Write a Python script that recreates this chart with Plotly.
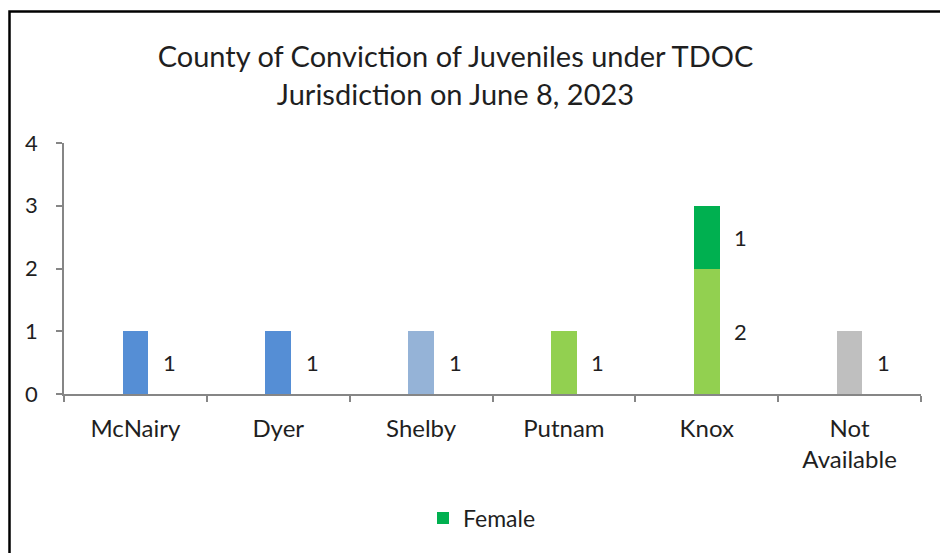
import plotly.graph_objects as go

categories = ["McNairy", "Dyer", "Shelby", "Putnam", "Knox", "Not<br>Available"]
male_values = [1, 1, 1, 1, 2, 1]
female_values = [0, 0, 0, 0, 1, 0]
male_colors = ["#558ED5", "#558ED5", "#95B3D7", "#92D050", "#92D050", "#BFBFBF"]
female_color = "#00B050"
y_ticks = [0, 1, 2, 3, 4]
title_text = "County of Conviction of Juveniles under TDOC<br>Jurisdiction on June 8, 2023"

FONT = "Lato, Calibri, Carlito, sans-serif"
TXT = "#1f1f1f"

fig = go.Figure()
fig.add_trace(go.Bar(
    x=categories, y=male_values, name="Male", width=0.18,
    marker=dict(color=male_colors, line=dict(width=0)), showlegend=False,
    hoverinfo="x+y",
))
fig.add_trace(go.Bar(
    x=categories, y=female_values, name="Female", width=0.18,
    marker=dict(color=female_color, line=dict(width=0)), showlegend=True,
))

annotations = []
for c, m, f in zip(categories, male_values, female_values):
    if m > 0:
        annotations.append(dict(x=c, y=m / 2, text=str(m), showarrow=False,
                                xshift=34, font=dict(size=22, color=TXT, family=FONT)))
    if f > 0:
        annotations.append(dict(x=c, y=m + f / 2, text=str(f), showarrow=False,
                                xshift=34, font=dict(size=22, color=TXT, family=FONT)))

l, r_px, t, b_px = 64, 921, 143, 394
pw, ph = r_px - l, b_px - t

def px_x(px):
    return (px - l) / pw

def px_y(py):
    return (b_px - py) / ph

fig.update_layout(
    barmode="stack",
    width=940, height=553,
    margin=dict(l=l, r=940 - r_px, t=t, b=553 - b_px, autoexpand=False),
    paper_bgcolor="white", plot_bgcolor="white",
    font=dict(family=FONT, color=TXT, size=22),
    title=dict(text=title_text, x=455.5 / 940, xref="container", xanchor="center",
               y=1 - 67 / 553, yref="container", yanchor="middle",
               font=dict(size=29, family=FONT, color=TXT)),
    xaxis=dict(showline=True, linecolor="#868686", linewidth=1.5,
               ticks="outside", ticklen=6, tickcolor="#868686", tickwidth=1.5,
               tickson="boundaries", showgrid=False, zeroline=False,
               tickfont=dict(size=24, family=FONT, color=TXT), ticklabelstandoff=12,
               fixedrange=True),
    yaxis=dict(range=[0, 4], tickvals=y_ticks, showline=True, linecolor="#868686", linewidth=1.5,
               ticks="outside", ticklen=6, tickcolor="#868686", tickwidth=1.5,
               showgrid=False, zeroline=False,
               tickfont=dict(size=22, family=FONT, color=TXT), ticklabelstandoff=14,
               fixedrange=True),
    legend=dict(orientation="h", x=px_x(482), xanchor="center", y=px_y(518), yanchor="middle",
                font=dict(size=23, family=FONT, color=TXT), bgcolor="rgba(0,0,0,0)"),
    annotations=annotations,
    shapes=[dict(type="rect", xref="paper", yref="paper",
                 x0=px_x(9.5), x1=px_x(950), y0=px_y(565), y1=px_y(11.5),
                 line=dict(color="black", width=2.5), fillcolor="rgba(0,0,0,0)", layer="below")],
)

fig.write_html("out.html", config={"displayModeBar": False},
               post_script="document.body.style.margin='0px';document.body.style.overflow='hidden';")
